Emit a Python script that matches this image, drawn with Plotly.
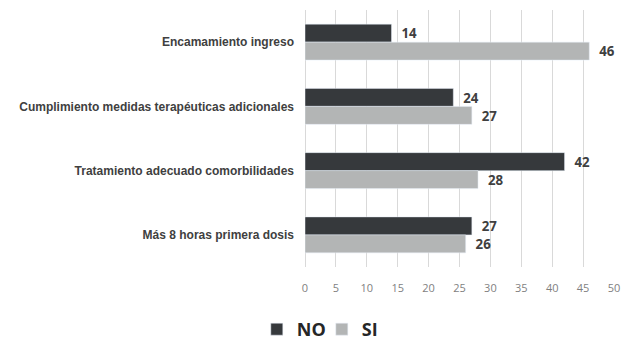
import plotly.graph_objects as go

categories = [
    "Encamamiento ingreso",
    "Cumplimiento medidas terapéuticas adicionales",
    "Tratamiento adecuado comorbilidades",
    "Más 8 horas primera dosis",
]
no_values = [14, 24, 42, 27]
si_values = [46, 27, 28, 26]
x_ticks = [0, 5, 10, 15, 20, 25, 30, 35, 40, 45, 50]

label_font = dict(family="Open Sans, Liberation Sans, sans-serif", size=14, color="#404040")

fig = go.Figure()
fig.add_trace(go.Bar(
    name="<b>NO</b>", y=categories, x=no_values, orientation="h",
    marker=dict(color="#36393c"),
    text=[str(v) for v in no_values], textposition="outside",
    texttemplate="  <b>%{x}</b>", textfont=label_font, cliponaxis=False,
))
fig.add_trace(go.Bar(
    name="<b>SI</b>", y=categories, x=si_values, orientation="h",
    marker=dict(color="#b3b5b5"),
    text=[str(v) for v in si_values], textposition="outside",
    texttemplate="  <b>%{x}</b>", textfont=label_font, cliponaxis=False,
))

fig.update_layout(
    width=631, height=345,
    margin=dict(l=305, r=17, t=10, b=78),
    paper_bgcolor="white", plot_bgcolor="white",
    barmode="group", bargap=0.44, bargroupgap=0,
    showlegend=True,
    legend=dict(
        orientation="h", xref="container", x=0.51, xanchor="center",
        yref="container", y=0.045, yanchor="middle",
        font=dict(family="Open Sans, Liberation Sans, sans-serif", size=18, color="#262626"),
        itemwidth=30, entrywidth=20, tracegroupgap=0,
    ),
    xaxis=dict(
        range=[0, 50], tickvals=x_ticks, showgrid=True, gridcolor="#d9d9d9", gridwidth=1,
        zeroline=True, zerolinecolor="#d9d9d9", zerolinewidth=1,
        showline=False, ticks="", ticklabelstandoff=13,
        tickfont=dict(family="Open Sans, Liberation Sans, sans-serif", size=11, color="#7f7f7f"),
        fixedrange=True,
    ),
    yaxis=dict(
        categoryorder="array", categoryarray=categories, autorange="reversed",
        showgrid=False, ticks="", ticklabelstandoff=10,
        tickfont=dict(family="Liberation Sans, Arial, sans-serif", size=12, color="#404040", weight="bold"),
    ),
)

fig.write_html("out.html")
